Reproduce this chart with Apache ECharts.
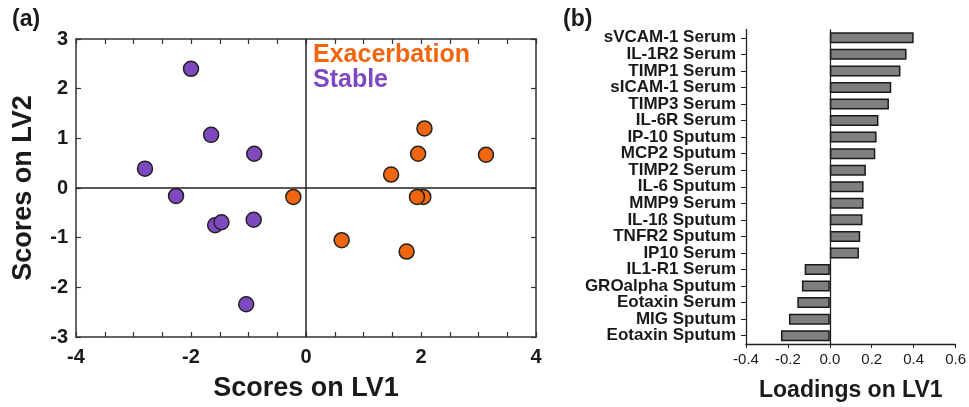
<!DOCTYPE html>
<html>
<head>
<meta charset="utf-8">
<script src="https://cdn.jsdelivr.net/npm/echarts@6/dist/echarts.min.js"></script>
<style>
  html, body { margin: 0; padding: 0; background: #fff; }
  #chart { width: 969px; height: 407px; }
</style>
</head>
<body>
<div id="chart"></div>
<script>
// panel (a): PLS-DA scores
const stableX = [-2.0, -1.65, -0.9, -2.8, -2.26, -1.58, -1.47, -0.91, -1.04]
const stableY = [2.4, 1.07, 0.69, 0.39, -0.16, -0.75, -0.69, -0.64, -2.34]
const exacX = [-0.22, 2.06, 1.95, 3.13, 1.48, 2.04, 1.93, 0.62, 1.75]
const exacY = [-0.18, 1.2, 0.69, 0.67, 0.27, -0.18, -0.18, -1.05, -1.28]

// panel (b): loadings on LV1
const analytes = ['sVCAM-1 Serum', 'IL-1R2 Serum', 'TIMP1 Serum', 'sICAM-1 Serum', 'TIMP3 Serum',
  'IL-6R Serum', 'IP-10 Sputum', 'MCP2 Sputum', 'TIMP2 Serum', 'IL-6 Sputum', 'MMP9 Serum',
  'IL-1ß Sputum', 'TNFR2 Sputum', 'IP10 Serum', 'IL1-R1 Serum', 'GROalpha Sputum',
  'Eotaxin Serum', 'MIG Sputum', 'Eotaxin Sputum']
const loadings = [0.40, 0.366, 0.337, 0.293, 0.282, 0.232, 0.223, 0.217, 0.172, 0.161, 0.161,
  0.156, 0.145, 0.139, -0.12, -0.133, -0.155, -0.195, -0.233]

const FONT = "'Liberation Sans', Arial, sans-serif"
const ORANGE = '#f0660f'
const PURPLE = '#7e48be'
const INK = '#1a1a1a'

const zip = (xs, ys) => xs.map((x, i) => [x, ys[i]])

const frameLine = { show: true, onZero: false, lineStyle: { color: '#333', width: 1.5 } }
const tickIn = { show: true, inside: true, length: 5, lineStyle: { color: '#333', width: 1.2 } }
const minorIn = { show: true, splitNumber: 4, length: 5, lineStyle: { color: '#333', width: 1.2 } }
const boldLabel = { fontFamily: FONT, fontWeight: 'bold', fontSize: 20, color: INK }

const chart = echarts.init(document.getElementById('chart'))

chart.setOption({
  animation: false,
  backgroundColor: '#fff',
  grid: [
    { left: 76, top: 39, width: 460, height: 306 },
    { left: 746, top: 29.5, width: 214, height: 317 }
  ],
  xAxis: [
    {
      gridIndex: 0, type: 'value', min: -4, max: 4, interval: 2,
      axisLine: frameLine, axisTick: tickIn, minorTick: minorIn,
      splitLine: { show: false }, minorSplitLine: { show: false },
      axisLabel: { ...boldLabel, margin: 10 },
      name: 'Scores on LV1', nameLocation: 'middle', nameGap: 38,
      nameTextStyle: { fontFamily: FONT, fontWeight: 'bold', fontSize: 27, color: INK }
    },
    {
      gridIndex: 0, type: 'value', position: 'top', min: -4, max: 4, interval: 2,
      axisLine: frameLine, axisTick: tickIn, minorTick: minorIn,
      splitLine: { show: false }, axisLabel: { show: false }
    },
    {
      gridIndex: 1, type: 'value', min: -0.4, max: 0.6, interval: 0.2,
      axisLine: { show: true, onZero: false, lineStyle: { color: '#222', width: 1.3 } },
      axisTick: { show: true, length: 4, lineStyle: { color: '#222' } },
      splitLine: { show: false },
      axisLabel: { fontFamily: FONT, fontSize: 15, color: INK, margin: 8,
        formatter: v => v.toFixed(1) },
      name: 'Loadings on LV1', nameLocation: 'middle', nameGap: 35,
      nameTextStyle: { fontFamily: FONT, fontWeight: 'bold', fontSize: 23, color: INK }
    }
  ],
  yAxis: [
    {
      gridIndex: 0, type: 'value', min: -3, max: 3, interval: 1,
      axisLine: frameLine, axisTick: tickIn,
      splitLine: { show: false },
      axisLabel: { ...boldLabel, margin: 8 },
      name: 'Scores on LV2', nameLocation: 'middle', nameGap: 39,
      nameTextStyle: { fontFamily: FONT, fontWeight: 'bold', fontSize: 27, color: INK }
    },
    {
      gridIndex: 0, type: 'value', position: 'right', min: -3, max: 3, interval: 1,
      axisLine: frameLine, axisTick: tickIn,
      splitLine: { show: false }, axisLabel: { show: false }
    },
    {
      gridIndex: 1, type: 'category', inverse: true, data: analytes,
      axisLine: { show: true, onZero: false, lineStyle: { color: '#222', width: 1.3 } },
      axisTick: { show: true, alignWithLabel: true, interval: 0, length: 5, lineStyle: { color: '#222' } },
      axisLabel: { fontFamily: FONT, fontWeight: 'bold', fontSize: 17, color: INK, margin: 10,
        interval: 0, hideOverlap: false }
    }
  ],
  series: [
    {
      name: 'Stable', type: 'scatter', xAxisIndex: 0, yAxisIndex: 0,
      data: zip(stableX, stableY), symbolSize: 15,
      itemStyle: { color: PURPLE, borderColor: '#222', borderWidth: 1.5, opacity: 1 },
      markLine: {
        silent: true, symbol: ['none', 'none'], label: { show: false },
        lineStyle: { color: '#222', width: 1.5, type: 'solid' },
        data: [{ xAxis: 0 }, { yAxis: 0 }]
      }
    },
    {
      name: 'Exacerbation', type: 'scatter', xAxisIndex: 0, yAxisIndex: 0,
      data: zip(exacX, exacY), symbolSize: 15,
      itemStyle: { color: ORANGE, borderColor: '#222', borderWidth: 1.5, opacity: 1 }
    },
    {
      name: 'Loadings', type: 'bar', xAxisIndex: 2, yAxisIndex: 2,
      data: loadings, barWidth: 11,
      itemStyle: { color: '#7f7f7f', borderColor: '#1a1a1a', borderWidth: 1.5 },
      markLine: {
        silent: true, symbol: ['none', 'none'], label: { show: false },
        lineStyle: { color: '#222', width: 1.3, type: 'solid' },
        data: [{ xAxis: 0 }]
      }
    }
  ],
  graphic: [
    { type: 'text', left: 12, top: 8, style: { text: '(a)', fontFamily: FONT, fontWeight: 'bold', fontSize: 23, fill: INK } },
    { type: 'text', left: 563, top: 8, style: { text: '(b)', fontFamily: FONT, fontWeight: 'bold', fontSize: 23, fill: INK } },
    { type: 'text', left: 313, top: 43, style: { text: 'Exacerbation', fontFamily: FONT, fontWeight: 'bold', fontSize: 25, fill: ORANGE } },
    { type: 'text', left: 313, top: 68, style: { text: 'Stable', fontFamily: FONT, fontWeight: 'bold', fontSize: 25, fill: PURPLE } }
  ]
})
</script>
</body>
</html>
